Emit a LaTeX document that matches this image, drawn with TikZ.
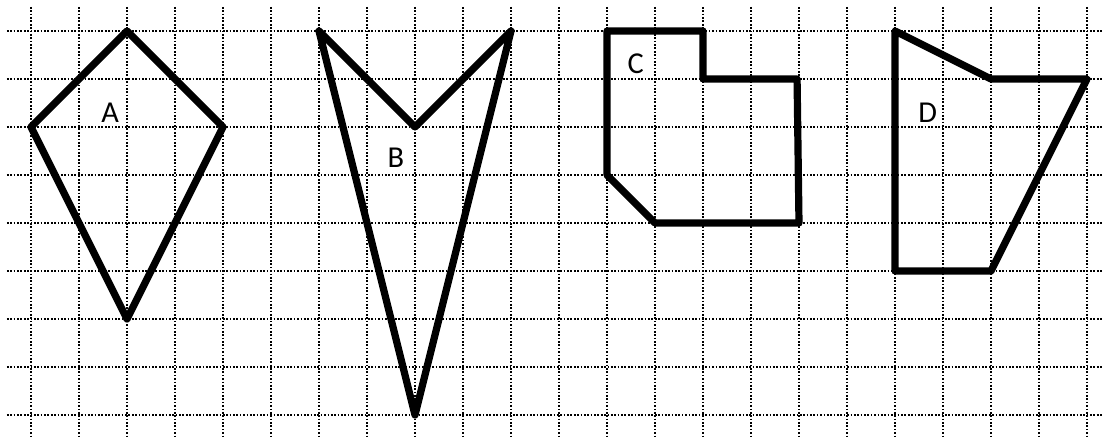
\documentclass[tikz,border=0pt]{standalone}
\usepackage{fontspec}
\setmainfont{Carlito}
\begin{document}
\begin{tikzpicture}[x=1cm,y=-1cm,
  gridline/.style={line width=1.2pt,dash pattern=on 1pt off 1pt,black},
  figline/.style={line width=0.15cm,line join=round,black},
  lbl/.style={font=\fontsize{18}{21}\selectfont,inner sep=0pt}]
\useasboundingbox[fill=white] (-0.6458,-0.6458) rectangle (22.3333,8.4583);
\foreach \i in {0,...,22} \draw[gridline] (\i,-0.5) -- (\i,8.4583);
\foreach \j in {0,...,8} \draw[gridline] (-0.5,\j) -- (22.3333,\j);
% A
\draw[figline] (2,0) -- (4,2) -- (2,6) -- (0,2) -- cycle;
\node[lbl] (la) at (1.65,1.7) {A};
% B
\draw[figline] (6,0) -- (8,2) -- (10,0) -- (8,8) -- cycle;
\node[lbl] (lb) at (7.6,2.65) {B};
% C
\draw[figline] (12,0) -- (14,0) -- (14,1) -- (15.96,1) -- (16,4) -- (13,4) -- (12,3) -- cycle;
\node[lbl] (lc) at (12.6,0.68) {C};
% D
\draw[figline] (18,0) -- (20,1) -- (22,1) -- (20,5) -- (18,5) -- cycle;
\node[lbl] (ld) at (18.68,1.7) {D};
\end{tikzpicture}
\end{document}
